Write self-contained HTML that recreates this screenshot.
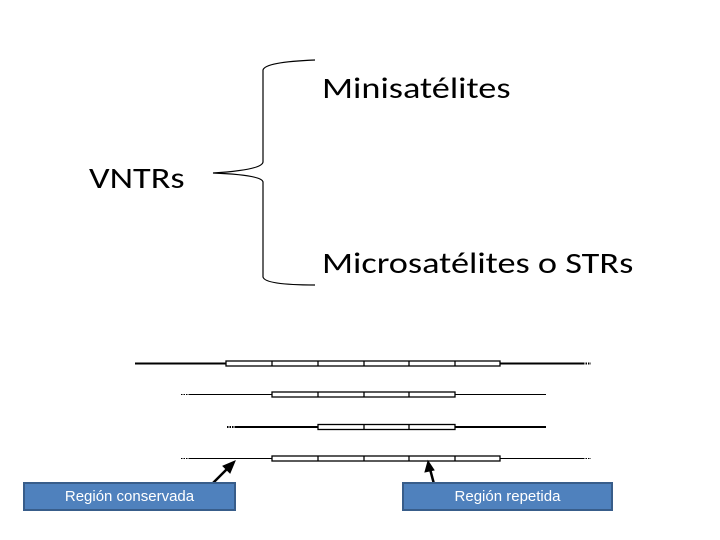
<!DOCTYPE html>
<html><head><meta charset="utf-8"><style>
body{margin:0;width:720px;height:540px;background:#fff;overflow:hidden;font-family:"Liberation Sans",sans-serif}
.t{position:absolute;font-size:30px;color:#000;white-space:nowrap;font-family:"Carlito","Liberation Sans",sans-serif;transform:scaleX(1.21);transform-origin:0 0}
.b{position:absolute;background:#4F81BD;border:2px solid #385D8A;color:#fff;font-size:15px;text-align:center;box-sizing:border-box;line-height:26px}
</style></head><body>
<div class="t" style="left:322px;top:70px">Minisatélites</div>
<div class="t" style="left:89px;top:160px">VNTRs</div>
<div class="t" style="left:322px;top:245px">Microsatélites o STRs</div>
<svg width="720" height="540" style="position:absolute;left:0;top:0">
<g fill="none" stroke="#000" stroke-width="1.2">
<path d="M315 60 Q265 62 263 70 L263 162 Q262 170 213 173 Q262 175 263 182 L263 277 Q265 285 315 285"/>
</g>
<g stroke="#000" fill="#fff">
<line x1="135" y1="363.5" x2="226" y2="363.5" stroke-width="2"/>
<line x1="500" y1="363.5" x2="583" y2="363.5" stroke-width="2"/>
<line x1="583" y1="363.5" x2="591" y2="363.5" stroke-width="2" stroke-dasharray="1.5 1"/>
<rect x="226" y="361" width="274" height="5" stroke-width="1.3"/>
<path d="M272 361v5M318 361v5M364 361v5M409 361v5M455 361v5" stroke-width="1.3"/>
<line x1="181" y1="394.5" x2="190" y2="394.5" stroke-dasharray="1.5 1"/>
<line x1="190" y1="394.5" x2="272" y2="394.5"/>
<line x1="455" y1="394.5" x2="546" y2="394.5"/>
<rect x="272" y="392" width="183" height="5" stroke-width="1.3"/>
<path d="M318 392v5M364 392v5M409 392v5" stroke-width="1.3"/>
<line x1="227" y1="427" x2="236" y2="427" stroke-width="2" stroke-dasharray="1.5 1"/>
<line x1="236" y1="427" x2="318" y2="427" stroke-width="2"/>
<line x1="455" y1="427" x2="546" y2="427" stroke-width="2"/>
<rect x="318" y="424.5" width="137" height="5" stroke-width="1.3"/>
<path d="M364 424.5v5M409 424.5v5" stroke-width="1.3"/>
<line x1="181" y1="458.5" x2="190" y2="458.5" stroke-dasharray="1.5 1"/>
<line x1="190" y1="458.5" x2="272" y2="458.5"/>
<line x1="500" y1="458.5" x2="583" y2="458.5"/>
<line x1="583" y1="458.5" x2="591" y2="458.5" stroke-dasharray="1.5 1"/>
<rect x="272" y="456" width="228" height="5" stroke-width="1.3"/>
<path d="M318 456v5M364 456v5M409 456v5M455 456v5" stroke-width="1.3"/>
</g>
<g stroke="#000" stroke-width="2.5" fill="#000">
<line x1="213" y1="483" x2="229" y2="467"/>
<polygon points="235,461 223,466 230,473" stroke-width="1"/>
<line x1="434" y1="484" x2="430" y2="469"/>
<polygon points="428,461 425,472 434,470" stroke-width="1"/>
</g>
</svg>
<div class="b" style="left:23px;top:482px;width:213px;height:29px">Región conservada</div>
<div class="b" style="left:402px;top:482px;width:211px;height:29px">Región repetida</div>
</body></html>
